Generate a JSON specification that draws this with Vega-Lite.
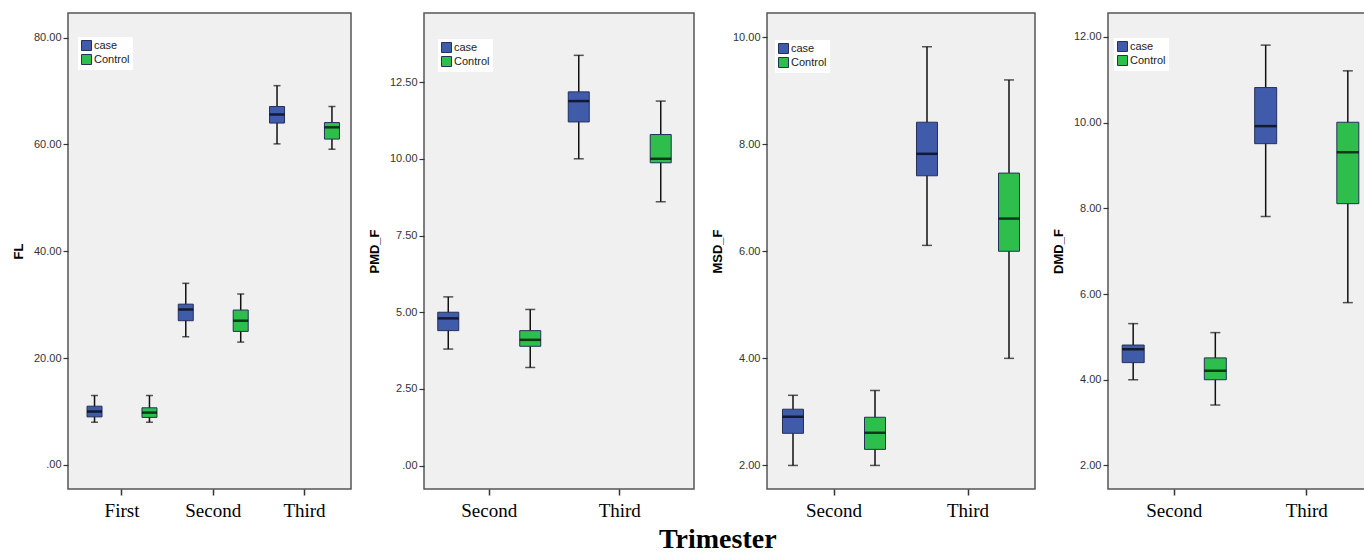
{
  "$schema": "https://vega.github.io/schema/vega-lite/v6.json",
  "background": "white",
  "padding": {"left": 11, "top": 12, "right": -9, "bottom": 0},
  "title": {"text": "Trimester", "orient": "bottom", "anchor": "middle", "font": "Liberation Serif", "fontSize": 28, "fontWeight": "bold", "color": "#000", "offset": 5, "dx": 25},
  "data": {"values": [
    {"measure": "FL", "trimester": "First", "group": "case", "min": 8, "q1": 9, "median": 10, "q3": 11, "max": 13},
    {"measure": "FL", "trimester": "First", "group": "Control", "min": 8, "q1": 8.9, "median": 9.8, "q3": 10.7, "max": 13},
    {"measure": "FL", "trimester": "Second", "group": "case", "min": 24, "q1": 27, "median": 29.1, "q3": 30.1, "max": 34},
    {"measure": "FL", "trimester": "Second", "group": "Control", "min": 23, "q1": 25, "median": 27, "q3": 29, "max": 32},
    {"measure": "FL", "trimester": "Third", "group": "case", "min": 60.1, "q1": 64, "median": 65.6, "q3": 67.1, "max": 71},
    {"measure": "FL", "trimester": "Third", "group": "Control", "min": 59.1, "q1": 61, "median": 63.2, "q3": 64.1, "max": 67.1},
    {"measure": "PMD_F", "trimester": "Second", "group": "case", "min": 3.8, "q1": 4.4, "median": 4.8, "q3": 5.0, "max": 5.5},
    {"measure": "PMD_F", "trimester": "Second", "group": "Control", "min": 3.2, "q1": 3.89, "median": 4.1, "q3": 4.4, "max": 5.09},
    {"measure": "PMD_F", "trimester": "Third", "group": "case", "min": 10.0, "q1": 11.2, "median": 11.88, "q3": 12.18, "max": 13.37},
    {"measure": "PMD_F", "trimester": "Third", "group": "Control", "min": 8.6, "q1": 9.87, "median": 10.0, "q3": 10.79, "max": 11.88},
    {"measure": "MSD_F", "trimester": "Second", "group": "case", "min": 2.0, "q1": 2.6, "median": 2.91, "q3": 3.05, "max": 3.31},
    {"measure": "MSD_F", "trimester": "Second", "group": "Control", "min": 2.0, "q1": 2.3, "median": 2.61, "q3": 2.9, "max": 3.4},
    {"measure": "MSD_F", "trimester": "Third", "group": "case", "min": 6.11, "q1": 7.41, "median": 7.82, "q3": 8.41, "max": 9.82},
    {"measure": "MSD_F", "trimester": "Third", "group": "Control", "min": 4.0, "q1": 6.0, "median": 6.61, "q3": 7.46, "max": 9.2},
    {"measure": "DMD_F", "trimester": "Second", "group": "case", "min": 4.0, "q1": 4.4, "median": 4.71, "q3": 4.81, "max": 5.31},
    {"measure": "DMD_F", "trimester": "Second", "group": "Control", "min": 3.41, "q1": 4.0, "median": 4.21, "q3": 4.51, "max": 5.1},
    {"measure": "DMD_F", "trimester": "Third", "group": "case", "min": 7.81, "q1": 9.51, "median": 9.92, "q3": 10.82, "max": 11.81},
    {"measure": "DMD_F", "trimester": "Third", "group": "Control", "min": 5.8, "q1": 8.11, "median": 9.31, "q3": 10.01, "max": 11.21}
  ]},
  "spacing": 15,
  "resolve": {"legend": {"fill": "independent"}, "scale": {"y": "independent", "x": "independent", "xOffset": "independent"}},
  "hconcat": [
    {
      "width": 283, "height": 476,
      "transform": [{"filter": "datum.measure === 'FL'"}],
      "encoding": {
        "x": {"field": "trimester", "type": "nominal", "title": null, "scale": {"domain": ["First", "Second", "Third"], "paddingInner": 0, "paddingOuter": 0.0507, "align": 0.905}},
        "xOffset": {"field": "group", "type": "nominal", "scale": {"domain": ["case", "Control"], "paddingInner": 0.339, "paddingOuter": 0}}
      },
      "layer": [
        {"mark": {"type": "rule", "color": "#111", "strokeWidth": 1.5},
         "encoding": {"y": {"field": "min", "type": "quantitative", "title": "FL", "scale": {"domain": [-4.5, 84.6], "nice": false, "zero": false}, "axis": {"values": [0, 20, 40, 60, 80]}}, "y2": {"field": "max"}}},
        {"mark": {"type": "bar", "width": 15, "stroke": "#26305a", "strokeWidth": 1},
         "encoding": {"y": {"field": "q1", "type": "quantitative", "title": "FL"}, "y2": {"field": "q3"},
           "fill": {"field": "group", "type": "nominal", "scale": {"domain": ["case", "Control"], "range": ["#3F5BA9", "#2DBE4B"]}, "legend": {"orient": "none", "legendX": 10, "legendY": 24}}}},
        {"mark": {"type": "tick", "color": "#000", "thickness": 2.5, "size": 15},
         "encoding": {"y": {"field": "median", "type": "quantitative", "title": "FL"}}},
        {"mark": {"type": "tick", "color": "#111", "thickness": 1.5, "size": 7},
         "encoding": {"y": {"field": "min", "type": "quantitative", "title": "FL"}}},
        {"mark": {"type": "tick", "color": "#111", "thickness": 1.5, "size": 7},
         "encoding": {"y": {"field": "max", "type": "quantitative", "title": "FL"}}}
      ]
    },
    {
      "width": 270, "height": 476,
      "transform": [{"filter": "datum.measure === 'PMD_F'"}],
      "encoding": {
        "x": {"field": "trimester", "type": "nominal", "title": null, "scale": {"domain": ["Second", "Third"], "paddingInner": 0, "paddingOuter": 0.0345, "align": 0}},
        "xOffset": {"field": "group", "type": "nominal", "scale": {"domain": ["case", "Control"], "paddingInner": 0.408, "paddingOuter": 0}}
      },
      "layer": [
        {"mark": {"type": "rule", "color": "#111", "strokeWidth": 1.5},
         "encoding": {"y": {"field": "min", "type": "quantitative", "title": "PMD_F", "scale": {"domain": [-0.76, 14.75], "nice": false, "zero": false}, "axis": {"values": [0, 2.5, 5, 7.5, 10, 12.5]}}, "y2": {"field": "max"}}},
        {"mark": {"type": "bar", "width": 21, "stroke": "#26305a", "strokeWidth": 1},
         "encoding": {"y": {"field": "q1", "type": "quantitative", "title": "PMD_F"}, "y2": {"field": "q3"},
           "fill": {"field": "group", "type": "nominal", "scale": {"domain": ["case", "Control"], "range": ["#3F5BA9", "#2DBE4B"]}, "legend": {"orient": "none", "legendX": 14, "legendY": 26}}}},
        {"mark": {"type": "tick", "color": "#000", "thickness": 2.5, "size": 21},
         "encoding": {"y": {"field": "median", "type": "quantitative", "title": "PMD_F"}}},
        {"mark": {"type": "tick", "color": "#111", "thickness": 1.5, "size": 10},
         "encoding": {"y": {"field": "min", "type": "quantitative", "title": "PMD_F"}}},
        {"mark": {"type": "tick", "color": "#111", "thickness": 1.5, "size": 10},
         "encoding": {"y": {"field": "max", "type": "quantitative", "title": "PMD_F"}}}
      ]
    },
    {
      "width": 268, "height": 476,
      "transform": [{"filter": "datum.measure === 'MSD_F'"}],
      "encoding": {
        "x": {"field": "trimester", "type": "nominal", "title": null, "scale": {"domain": ["Second", "Third"], "paddingInner": 0, "paddingOuter": 0}},
        "xOffset": {"field": "group", "type": "nominal", "scale": {"domain": ["case", "Control"], "paddingInner": 0.366, "paddingOuter": 0}}
      },
      "layer": [
        {"mark": {"type": "rule", "color": "#111", "strokeWidth": 1.5},
         "encoding": {"y": {"field": "min", "type": "quantitative", "title": "MSD_F", "scale": {"domain": [1.56, 10.45], "nice": false, "zero": false}, "axis": {"values": [2, 4, 6, 8, 10]}}, "y2": {"field": "max"}}},
        {"mark": {"type": "bar", "width": 21, "stroke": "#26305a", "strokeWidth": 1},
         "encoding": {"y": {"field": "q1", "type": "quantitative", "title": "MSD_F"}, "y2": {"field": "q3"},
           "fill": {"field": "group", "type": "nominal", "scale": {"domain": ["case", "Control"], "range": ["#3F5BA9", "#2DBE4B"]}, "legend": {"orient": "none", "legendX": 8, "legendY": 27}}}},
        {"mark": {"type": "tick", "color": "#000", "thickness": 2.5, "size": 21},
         "encoding": {"y": {"field": "median", "type": "quantitative", "title": "MSD_F"}}},
        {"mark": {"type": "tick", "color": "#111", "thickness": 1.5, "size": 10},
         "encoding": {"y": {"field": "min", "type": "quantitative", "title": "MSD_F"}}},
        {"mark": {"type": "tick", "color": "#111", "thickness": 1.5, "size": 10},
         "encoding": {"y": {"field": "max", "type": "quantitative", "title": "MSD_F"}}}
      ]
    },
    {
      "width": 265, "height": 476,
      "transform": [{"filter": "datum.measure === 'DMD_F'"}],
      "encoding": {
        "x": {"field": "trimester", "type": "nominal", "title": null, "scale": {"domain": ["Second", "Third"], "paddingInner": 0, "paddingOuter": 0}},
        "xOffset": {"field": "group", "type": "nominal", "scale": {"domain": ["case", "Control"], "paddingInner": 0.387, "paddingOuter": 0}}
      },
      "layer": [
        {"mark": {"type": "rule", "color": "#111", "strokeWidth": 1.5},
         "encoding": {"y": {"field": "min", "type": "quantitative", "title": "DMD_F", "scale": {"domain": [1.45, 12.56], "nice": false, "zero": false}, "axis": {"values": [2, 4, 6, 8, 10, 12]}}, "y2": {"field": "max"}}},
        {"mark": {"type": "bar", "width": 22, "stroke": "#26305a", "strokeWidth": 1},
         "encoding": {"y": {"field": "q1", "type": "quantitative", "title": "DMD_F"}, "y2": {"field": "q3"},
           "fill": {"field": "group", "type": "nominal", "scale": {"domain": ["case", "Control"], "range": ["#3F5BA9", "#2DBE4B"]}, "legend": {"orient": "none", "legendX": 6, "legendY": 25}}}},
        {"mark": {"type": "tick", "color": "#000", "thickness": 2.5, "size": 22},
         "encoding": {"y": {"field": "median", "type": "quantitative", "title": "DMD_F"}}},
        {"mark": {"type": "tick", "color": "#111", "thickness": 1.5, "size": 10},
         "encoding": {"y": {"field": "min", "type": "quantitative", "title": "DMD_F"}}},
        {"mark": {"type": "tick", "color": "#111", "thickness": 1.5, "size": 10},
         "encoding": {"y": {"field": "max", "type": "quantitative", "title": "DMD_F"}}}
      ]
    }
  ],
  "config": {
    "view": {"fill": "#F0F0F0", "stroke": "#555555", "strokeWidth": 1.5},
    "axisY": {"grid": false, "domain": false, "labelExpr": "datum.value === 0 ? '.00' : format(datum.value, '.2f')", "labelFont": "Liberation Sans", "labelFontSize": 11, "labelColor": "#333", "tickColor": "#333", "tickSize": 5, "tickWidth": 1.2, "labelPadding": 2, "titleFont": "Liberation Sans", "titleFontSize": 13, "titleFontWeight": "bold", "titleColor": "#000", "titlePadding": 8},
    "axisX": {"grid": false, "domain": false, "labelAngle": 0, "labelFont": "Liberation Serif", "labelFontSize": 19, "labelColor": "#000", "tickColor": "#333", "tickSize": 6, "tickWidth": 1.5, "labelPadding": 6},
    "legend": {"title": null, "fillColor": "white", "padding": 3, "symbolType": "square", "symbolSize": 100, "symbolStrokeWidth": 1, "symbolStrokeColor": "#26305a", "labelFont": "Liberation Sans", "labelFontSize": 11, "labelColor": "#222", "labelOffset": 2, "rowPadding": -1}
  }
}
